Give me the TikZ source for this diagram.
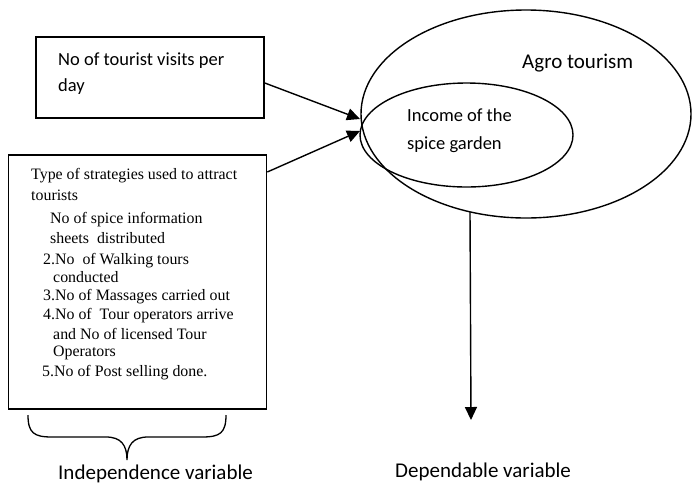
\documentclass[tikz,border=0pt]{standalone}
\usepackage{fontspec}
\setmainfont{Carlito}
\newfontfamily\timesfont{Liberation Serif}
\usetikzlibrary{shapes.geometric,arrows.meta}
\begin{document}
\begin{tikzpicture}[x=1pt,y=-1pt,
  boxstyle/.style={draw,line width=1.6pt,rectangle,inner sep=0pt},
  ovalstyle/.style={draw,line width=1.4pt,ellipse,inner sep=0pt},
  sanstext/.style={anchor=base west,inner sep=0pt,font=\fontsize{18.5}{22}\selectfont},
  bigsans/.style={anchor=base west,inner sep=0pt,font=\fontsize{21}{25}\selectfont},
  sertext/.style={anchor=base west,inner sep=0pt,font=\timesfont\fontsize{15.9}{18}\selectfont},
  arrowline/.style={line width=1.4pt,-{Triangle[length=13pt,width=12pt]}}
]
\useasboundingbox (0,0) rectangle (692,483);
% boxes
\node[boxstyle,minimum width=228pt,minimum height=81pt] (topbox) at (150,77.5) {};
\node[boxstyle,minimum width=258pt,minimum height=254pt] (leftbox) at (137.5,282) {};
% ellipses
\node[ovalstyle,minimum width=330pt,minimum height=208pt] (outer) at (526,114) {};
\node[ovalstyle,minimum width=213pt,minimum height=104pt] (inner) at (466.5,135) {};
% texts
\node[sanstext] (t1a) at (58,65) {No of tourist visits per};
\node[sanstext] (t1b) at (58,91) {day};
\node[bigsans] (agro) at (522,68) {Agro tourism};
\node[sanstext] (inc1) at (407,121) {Income of the};
\node[sanstext] (inc2) at (407,149) {spice garden};
\node[sertext] (s1) at (31,179.5) {Type of strategies used to attract};
\node[sertext] (s2) at (31,200.5) {tourists};
\node[sertext] (s3) at (50,223.5) {No of spice information};
\node[sertext] (s4) at (50,243.5) {sheets\ \ distributed};
\node[sertext] (s5) at (43,264.5) {2.No\ \ of Walking tours};
\node[sertext] (s6) at (53,282.5) {conducted};
\node[sertext] (s7) at (43,300.5) {3.No of Massages carried out};
\node[sertext] (s8) at (43,319.5) {4.No of\ \ Tour operators arrive};
\node[sertext] (s9) at (53,339.5) {and No of licensed Tour};
\node[sertext] (s10) at (53,356.5) {Operators};
\node[sertext] (s11) at (42,376.5) {5.No of Post selling done.};
\node[bigsans] (indep) at (58,479) {Independence variable};
\node[bigsans] (dep) at (395,477) {Dependable variable};
% connectors
\coordinate (tipA) at (360,119);
\coordinate (tipB) at (360,131);
\coordinate (startC) at (470,212);
\coordinate (tipC) at (471,420);
\draw[arrowline] ([yshift=-5.5pt]topbox.east) -- (tipA);
\draw[arrowline] ([yshift=110pt]leftbox.east) -- (tipB);
\draw[arrowline] (startC) -- (tipC);
% brace
\draw[line width=1.3pt] (28,415) .. controls (28,433) and (34,437) .. (52,437)
  -- (106,437) .. controls (121,437) and (127,445) .. (127,460)
  .. controls (127,445) and (133,437) .. (148,437)
  -- (202,437) .. controls (220,437) and (226,433) .. (226,415);
\end{tikzpicture}
\end{document}
